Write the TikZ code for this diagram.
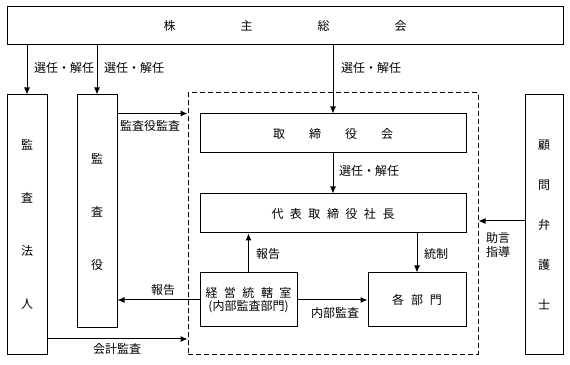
\documentclass[tikz,border=0pt]{standalone}
\usepackage{fontspec}
\setmainfont{Noto Sans CJK JP}
\usetikzlibrary{arrows.meta, positioning}

\begin{document}
\begin{tikzpicture}[
x=1pt, y=1pt,
font=\fontsize{12}{14}\selectfont,
box/.style={draw, line width=1pt, inner sep=0pt, align=center},
tallbox/.style={box, font=\fontsize{12}{#1}\selectfont},
frame/.style={draw, line width=1pt, dash pattern=on 5pt off 3pt, inner sep=0pt},
arrow/.style={-{Latex[length=7pt, width=6pt]}, line width=1pt},
lbl/.style={inner sep=1pt, align=center}
]
\useasboundingbox (0,0) rectangle (570,364);
% boxes
\node[box, minimum width=556pt, minimum height=38pt] (soukai) at (285,338) {株\hspace{65pt}主\hspace{65pt}総\hspace{65pt}会};
\node[tallbox=53, minimum width=40pt, minimum height=259pt] (houjin) at (27,139.5) {監\\査\\法\\人};
\node[tallbox=53, minimum width=40pt, minimum height=233pt] (kansayaku) at (97,152.5) {監\\査\\役};
\node[frame, minimum width=290pt, minimum height=261pt] (naibu) at (333,140.5) {};
\node[box, minimum width=266pt, minimum height=39pt] (torikai) at (333,230.5) {取\hspace{24pt}締\hspace{24pt}役\hspace{24pt}会};
\node[box, minimum width=266pt, minimum height=39pt] (shachou) at (333,150.5) {代\hspace{6.5pt}表\hspace{6.5pt}取\hspace{6.5pt}締\hspace{6.5pt}役\hspace{6.5pt}社\hspace{6.5pt}長};
\node[box, minimum width=97pt, minimum height=54pt, font=\fontsize{12}{13.5}\selectfont] (keiei) at (248.5,64) {経\hspace{6.5pt}営\hspace{6.5pt}統\hspace{6.5pt}轄\hspace{6.5pt}室\\(内部監査部門)};
\node[box, minimum width=98pt, minimum height=54pt] (bumon) at (417,64) {各\hspace{7pt}部\hspace{7pt}門};
\node[tallbox=40, minimum width=38pt, minimum height=259pt] (bengoshi) at (544,139.5) {顧\\問\\弁\\護\\士};
% arrows
\draw[arrow] (soukai.south -| houjin.north) -- (houjin.north);
\draw[arrow] (soukai.south -| kansayaku.north) -- (kansayaku.north);
\draw[arrow] (soukai.south -| torikai.north) -- (torikai.north);
\draw[arrow] (kansayaku.east |- torikai.north) -- (naibu.west |- torikai.north);
\draw[arrow] (torikai.south) -- (shachou.north);
\draw[arrow] (keiei.north) -- (keiei.north |- shachou.south);
\draw[arrow] (shachou.south -| bumon.north) -- (bumon.north);
\draw[arrow] (keiei.west) -- (keiei.west -| kansayaku.east);
\draw[arrow] (keiei.east) -- (bumon.west);
\coordinate (kaikei) at ([yshift=-114.5pt]houjin.east);
\draw[arrow] (kaikei) -- (kaikei -| naibu.west);
\coordinate (jogen) at ([yshift=3.5pt]bengoshi.west);
\draw[arrow] (jogen) -- (jogen -| naibu.east);
% labels
\node[lbl, anchor=west] (sen1) at (33,296) {選任・解任};
\node[lbl, anchor=west] (sen2) at (103,296) {選任・解任};
\node[lbl, anchor=west] (sen3) at (340,296) {選任・解任};
\node[lbl] (kansalbl) at (150,238) {監査役監査};
\node[lbl, anchor=west] (sen4) at (338,193) {選任・解任};
\node[lbl, anchor=west] (houkoku1) at (255,110) {報告};
\node[lbl] (houkoku2) at (163,74) {報告};
\node[lbl] (kaikeilbl) at (117,15) {会計監査};
\node[lbl] (naibulbl) at (335,51) {内部監査};
\node[lbl, anchor=west] (tousei) at (423,110) {統制};
\node[lbl, font=\fontsize{12}{14}\selectfont] (jogenlbl) at (498,119) {助言\\指導};
\end{tikzpicture}
\end{document}
